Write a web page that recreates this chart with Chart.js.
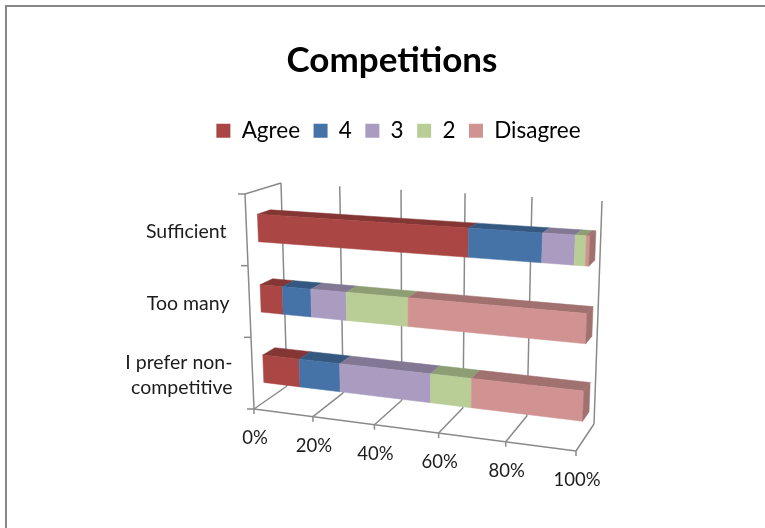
<!DOCTYPE html>
<html>
<head>
<meta charset="utf-8">
<title>Competitions</title>
<script src="https://cdn.jsdelivr.net/npm/chart.js@4"></script>
<style>
  html, body { margin: 0; background: #fff; }
  #frame {
    position: relative; width: 765px; height: 528px; overflow: hidden;
  }
  #frame::before {
    content: ""; position: absolute; left: 5px; top: 5px; right: 0; bottom: 0;
    border-left: 2px solid #868686; border-top: 2px solid #868686;
  }
  canvas { position: absolute; left: 0; top: 0; }
</style>
</head>
<body>
<div id="frame"><canvas id="chart" width="765" height="528"></canvas></div>
<script>
const categories = ["Sufficient", "Too many", ["I prefer non-", "competitive"]];
const agree = [66, 7.5, 12.5];
const four = [21, 9.5, 13.5];
const three = [9, 11.5, 29];
const two = [3, 19.5, 12.5];
const disagree = [1, 52, 32.5];
const seriesNames = ["Agree", "4", "3", "2", "Disagree"];
const seriesColors = ["#AA4643", "#4572A7", "#AA9CC0", "#B9CD96", "#D19392"];

const FONT = "Lato, Carlito, sans-serif";
const LINE = "#8a8a8a";

// Box of the 3D view on screen: [value, category, depth] corners, 0 or 1 each
const view = {
  "000": [245, 194], "100": [586, 214], "010": [254, 409], "110": [576, 451],
  "001": [281, 183], "101": [602, 201], "011": [287, 386], "111": [594, 424],
};
const FORESHORTEN = 1.116;
const BAR_FRONT = 0.32;
const BAR_BACK = 0.68;
const BAR_DROP = 0.011;

function lerp(a, b, t) {
  return [a[0] + (b[0] - a[0]) * t, a[1] + (b[1] - a[1]) * t];
}

// u = value axis, v = category axis, w = depth, all 0..1
function project(u, v, w) {
  const f = u / (u + FORESHORTEN * (1 - u));
  const c = (a, b, d) => view[`${a}${b}${d}`];
  const near = lerp(lerp(c(0, 0, 0), c(1, 0, 0), f), lerp(c(0, 1, 0), c(1, 1, 0), f), v);
  const far = lerp(lerp(c(0, 0, 1), c(1, 0, 1), f), lerp(c(0, 1, 1), c(1, 1, 1), f), v);
  return lerp(near, far, w);
}

function shade(hex, k) {
  const n = parseInt(hex.slice(1), 16);
  const ch = (s) => Math.round(((n >> s) & 255) * k);
  return `rgb(${ch(16)},${ch(8)},${ch(0)})`;
}

function polygon(ctx, pts, color) {
  ctx.beginPath();
  pts.forEach((p, i) => (i ? ctx.lineTo(p[0], p[1]) : ctx.moveTo(p[0], p[1])));
  ctx.closePath();
  ctx.fillStyle = color;
  ctx.fill();
  // same colour stroke hides the seams between neighbouring faces
  ctx.strokeStyle = color;
  ctx.lineWidth = 0.5;
  ctx.stroke();
}

function segment(ctx, a, b) {
  ctx.beginPath();
  ctx.moveTo(a[0], a[1]);
  ctx.lineTo(b[0], b[1]);
  ctx.stroke();
}

const perspectiveBars = {
  id: "perspectiveBars",
  // legend sits a little right of the title
  afterLayout(chart) {
    chart.legend.left += 6.5;
    chart.legend.right += 6.5;
  },
  // the flat bars are replaced by the boxes below
  beforeDatasetsDraw(chart) {
    const { ctx } = chart;
    const xs = chart.scales.x;
    const ys = chart.scales.y;
    const toU = (px) => (px - xs.left) / xs.width;
    const toV = (py) => (py - ys.top) / ys.height;

    ctx.save();
    ctx.strokeStyle = LINE;
    ctx.lineWidth = 1.5;

    // walls and floor
    xs.ticks.forEach((tick) => {
      const u = toU(xs.getPixelForValue(tick.value));
      segment(ctx, project(u, 0, 1), project(u, 1, 1));
      segment(ctx, project(u, 1, 1), project(u, 1, 0));
      const p = project(u, 1, 0);
      segment(ctx, p, [p[0], p[1] + 5]);
    });
    segment(ctx, project(0, 1, 0), project(1, 1, 0));
    segment(ctx, project(0, 0, 0), project(0, 1, 0));
    segment(ctx, project(0, 0, 0), project(0, 0, 1));
    categories.concat([null]).forEach((_, i) => {
      const p = project(0, i / categories.length, 0);
      segment(ctx, p, [p[0] - 7, p[1]]);
    });

    // boxes, one stack per category
    categories.forEach((_, row) => {
      chart.data.datasets.forEach((ds, i) => {
        const el = chart.getDatasetMeta(i).data[row];
        const { x, base, y, height } = el.getProps(["x", "base", "y", "height"], true);
        const u0 = toU(base);
        const u1 = toU(x);
        const v0 = toV(y - height / 2) + BAR_DROP;
        const v1 = toV(y + height / 2) + BAR_DROP;
        const color = seriesColors[i];
        polygon(ctx, [project(u0, v0, BAR_FRONT), project(u1, v0, BAR_FRONT),
          project(u1, v0, BAR_BACK), project(u0, v0, BAR_BACK)], shade(color, 0.77));
        polygon(ctx, [project(u0, v0, BAR_FRONT), project(u1, v0, BAR_FRONT),
          project(u1, v1, BAR_FRONT), project(u0, v1, BAR_FRONT)], color);
        if (i === chart.data.datasets.length - 1) {
          polygon(ctx, [project(u1, v0, BAR_FRONT), project(u1, v0, BAR_BACK),
            project(u1, v1, BAR_BACK), project(u1, v1, BAR_FRONT)], shade(color, 0.77));
        }
      });
    });

    // axis text
    ctx.fillStyle = "#1c1c1c";
    ctx.font = `18.5px ${FONT}`;
    ctx.textAlign = "center";
    ctx.textBaseline = "middle";
    xs.ticks.forEach((tick) => {
      const p = project(toU(xs.getPixelForValue(tick.value)), 1, 0);
      ctx.fillText(`${tick.value}%`, p[0] + 1, p[1] + 29);
    });

    ctx.font = `19.5px ${FONT}`;
    ctx.textAlign = "right";
    categories.forEach((label, i) => {
      const p = project(0, toV(ys.getPixelForValue(i)), 0);
      const lines = [].concat(label);
      lines.forEach((line, j) => {
        ctx.fillText(line, p[0] - 20, p[1] + 2 + (j - (lines.length - 1) / 2) * 25);
      });
    });
    ctx.restore();
    return false;
  },
};

const seriesValues = [agree, four, three, two, disagree];

new Chart(document.getElementById("chart"), {
  type: "bar",
  data: {
    labels: categories,
    datasets: seriesNames.map((name, i) => ({
      label: name,
      data: seriesValues[i],
      backgroundColor: seriesColors[i],
      barPercentage: 0.39,
      categoryPercentage: 1,
    })),
  },
  options: {
    indexAxis: "y",
    responsive: false,
    animation: false,
    layout: { padding: { left: 19 } },
    scales: {
      x: { display: false, stacked: true, min: 0, max: 100, ticks: { stepSize: 20 } },
      y: { display: false, stacked: true },
    },
    plugins: {
      title: {
        display: true,
        text: "Competitions",
        color: "#000",
        font: { family: FONT, size: 35, weight: "bold" },
        padding: { top: 40, bottom: 24 },
      },
      legend: {
        position: "top",
        labels: {
          color: "#000",
          font: { family: FONT, size: 22.5 },
          boxWidth: 14,
          boxHeight: 14,
          padding: 13.5,
        },
      },
      tooltip: { enabled: false },
    },
  },
  plugins: [perspectiveBars],
});
</script>
</body>
</html>
